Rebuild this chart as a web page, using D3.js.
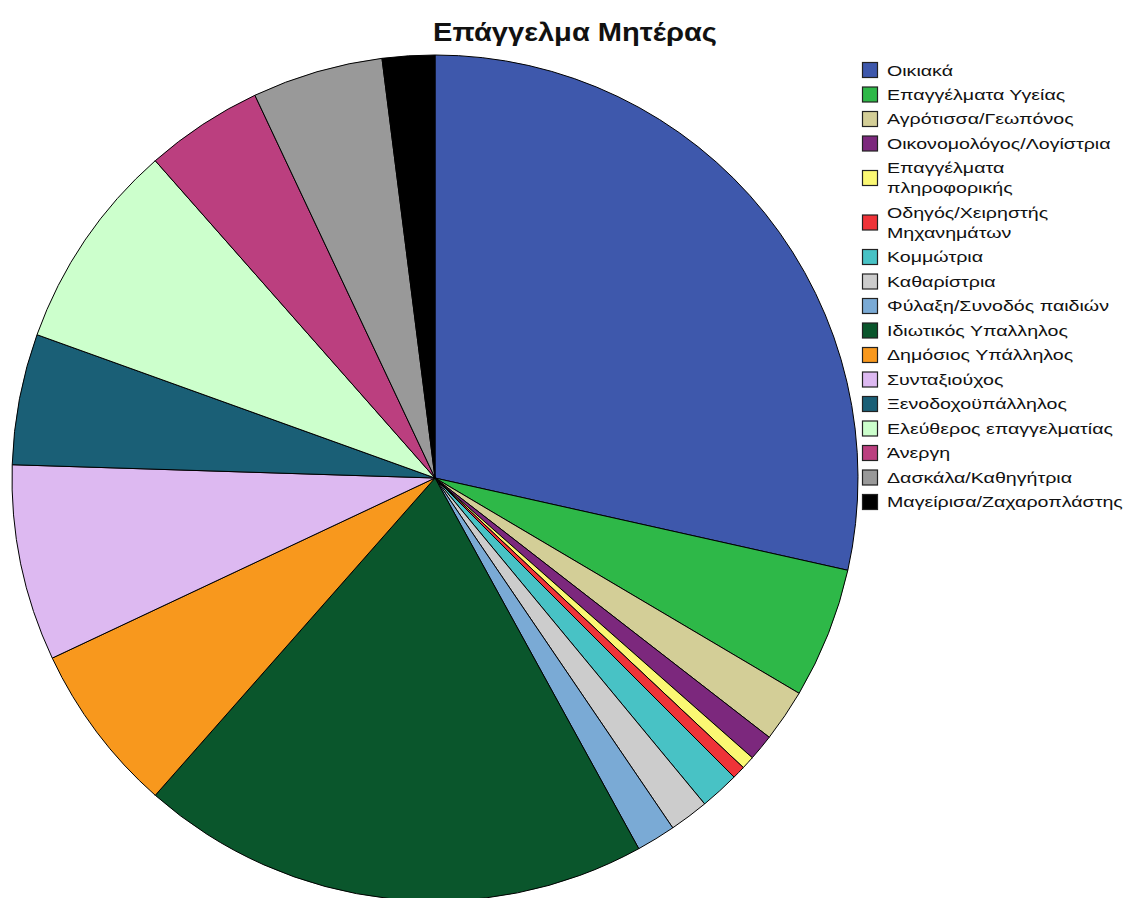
<!DOCTYPE html>
<html>
<head>
<meta charset="utf-8">
<script src="https://cdn.jsdelivr.net/npm/d3@7"></script>
<style>
  body { margin: 0; background: #fff; }
  svg { display: block; }
  text { font-family: "Liberation Sans", Arial, sans-serif; }
</style>
</head>
<body>
<svg id="chart" width="1126" height="898"></svg>
<script>
// Mother's occupation, counts (N = 200)
const categories = [
  "Οικιακά", "Επαγγέλματα Υγείας", "Αγρότισσα/Γεωπόνος", "Οικονομολόγος/Λογίστρια",
  "Επαγγέλματα\nπληροφορικής", "Οδηγός/Χειρηστής\nΜηχανημάτων", "Κομμώτρια", "Καθαρίστρια",
  "Φύλαξη/Συνοδός παιδιών", "Ιδιωτικός Υπαλληλος", "Δημόσιος Υπάλληλος", "Συνταξιούχος",
  "Ξενοδοχοϋπάλληλος", "Ελεύθερος επαγγελματίας", "Άνεργη", "Δασκάλα/Καθηγήτρια",
  "Μαγείρισα/Ζαχαροπλάστης"
];
const counts = [57, 10, 4, 2, 1, 1, 3, 3, 3, 39, 13, 15, 10, 16, 9, 10, 4];
const colors = [
  "#3e58ac", "#2eb848", "#d3ce97", "#7c287d", "#fbf873", "#ef3338", "#48c2c5", "#cccccc",
  "#7aaad5", "#0a562c", "#f8981d", "#ddb9f1", "#1a5f76", "#ccffcc", "#bb3f7f", "#999999",
  "#000000"
];
const title = "Επάγγελμα Μητέρας";

const svg = d3.select("#chart");
const cx = 435, cy = 478, r = 423;

const pie = d3.pie().sort(null).value(d => d);
const arc = d3.arc().innerRadius(0).outerRadius(r);
const color = d3.scaleOrdinal().domain(categories).range(colors);

svg.append("g")
  .attr("transform", `translate(${cx},${cy})`)
  .selectAll("path")
  .data(pie(counts))
  .join("path")
  .attr("d", arc)
  .attr("fill", (d, i) => color(categories[i]))
  .attr("stroke", "#000")
  .attr("stroke-width", 1)
  .attr("stroke-linejoin", "round");

// title, stretched a bit wider like the original rendering
const tt = svg.append("text")
  .attr("text-anchor", "middle")
  .attr("font-size", 25).attr("font-weight", "bold")
  .attr("fill", "#111")
  .text(title);
const tw = tt.node().getComputedTextLength();
tt.attr("transform", `translate(575,41) scale(${284 / tw},1)`);

// legend: single line entries step 24.5, extra lines 20 each
const legend = svg.append("g").attr("transform", "translate(862,70)");
const labels = legend.append("g");
let y = 0;
categories.forEach((c, i) => {
  const lines = c.split("\n");
  const mid = y + (lines.length - 1) * 10;
  legend.append("rect")
    .attr("x", 0.5).attr("y", mid - 7.5)
    .attr("width", 15).attr("height", 15)
    .attr("fill", color(c))
    .attr("stroke", "#222").attr("stroke-width", 1.2);
  const t = labels.append("text").attr("font-size", 15).attr("fill", "#111");
  lines.forEach((ln, k) => {
    t.append("tspan").attr("x", 0).attr("y", y + k * 20 + 5.5).text(ln);
  });
  y += 24.5 + (lines.length - 1) * 20;
});
// horizontally stretch labels so the longest one spans like the reference
let maxW = 0;
labels.selectAll("tspan").each(function () {
  maxW = Math.max(maxW, this.getComputedTextLength());
});
labels.attr("transform", `translate(25,0) scale(${236 / maxW},1)`);
</script>
</body>
</html>
